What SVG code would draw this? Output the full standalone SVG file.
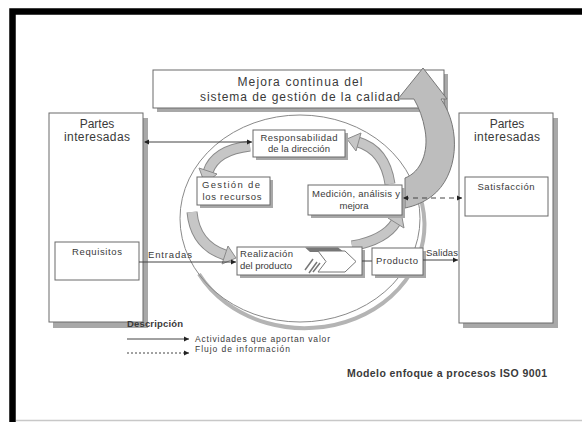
<svg xmlns="http://www.w3.org/2000/svg" width="582" height="422" viewBox="0 0 582 422">
<style>
text{font-family:"Liberation Sans",Arial,sans-serif;fill:#3a3a3a}
.box{fill:#fff;stroke:#6a6a6a;stroke-width:1}
.sh{fill:#a8a8a8}
.big{font-size:12px}
.nd{font-size:9.5px}
.lg{font-size:8.5px}
.con{stroke:#444;stroke-width:1;fill:none}
.cyc{fill:#c6c6c6;stroke:#8a8a8a;stroke-width:1}
</style>
<defs>
<marker id="ah" markerWidth="6" markerHeight="6" refX="5" refY="3" orient="auto" markerUnits="userSpaceOnUse">
<path d="M0,0.5 L5,3 L0,5.5 Z" fill="#222"/>
</marker>
<marker id="ahs" markerWidth="6" markerHeight="6" refX="1" refY="3" orient="auto" markerUnits="userSpaceOnUse">
<path d="M5,0.5 L0,3 L5,5.5 Z" fill="#222"/>
</marker>
</defs>
<rect width="582" height="422" fill="#fff"/>
<!-- frame -->
<rect x="12.5" y="11.5" width="600" height="440" fill="none" stroke="#000" stroke-width="6.5"/>
<line x1="16" y1="420.5" x2="582" y2="420.5" stroke="#c8c8c8" stroke-width="1.5"/>

<!-- ellipse -->
<g id="ellipse">
<path d="M415.8 186 A120 103.5 0 0 1 199 274" fill="none" stroke="#b4b4b4" stroke-width="4"/>
<ellipse cx="300" cy="218.5" rx="120" ry="103.5" fill="none" stroke="#8a8a8a" stroke-width="1"/>
</g>

<!-- top box -->
<g id="n-mejora">
<rect class="sh" x="157" y="74" width="291" height="38"/>
<rect class="box" x="153" y="70" width="291" height="38"/>
<text class="big" x="300" y="86" text-anchor="middle" textLength="125" lengthAdjust="spacing">Mejora continua del</text>
<text class="big" x="300" y="101" text-anchor="middle" textLength="200" lengthAdjust="spacing">sistema de gestión de la calidad</text>
</g>

<!-- big curved arrow -->
<g id="big-arrow">
<path d="M423 68 L447 99 L441 99 C462 130 458 176 432 196 C424 202 415 206 405 208 L405 178 C421 172 429 152 425 130 C423 118 419 108 414 99 L398 99 Z" fill="#bdbdbd" stroke="#777" stroke-width="1"/>
</g>

<!-- left stakeholders -->
<g id="n-partes-izq">
<rect class="sh" x="53" y="118" width="95" height="210"/>
<rect class="box" x="49" y="113" width="94" height="209"/>
<text class="big" x="97" y="128" text-anchor="middle">Partes</text>
<text class="big" x="97" y="141" text-anchor="middle" textLength="66" lengthAdjust="spacing">interesadas</text>
</g>
<g id="n-requisitos">
<rect class="box" x="55" y="242" width="84" height="38"/>
<text class="nd" x="97" y="255" text-anchor="middle" textLength="50" lengthAdjust="spacing">Requisitos</text>
</g>

<!-- right stakeholders -->
<g id="n-partes-der">
<rect class="sh" x="463" y="118" width="95" height="210"/>
<rect class="box" x="459" y="113" width="94" height="210"/>
<text class="big" x="507" y="128" text-anchor="middle">Partes</text>
<text class="big" x="507" y="141" text-anchor="middle" textLength="66" lengthAdjust="spacing">interesadas</text>
</g>
<g id="n-satisfaccion">
<rect class="box" x="465" y="177" width="83" height="39"/>
<text class="nd" x="506" y="190" text-anchor="middle" textLength="57" lengthAdjust="spacing">Satisfacción</text>
</g>

<!-- cycle arrows -->
<g id="cycle-arrows">
<path d="M250 146 Q215 150 208 172" fill="none" stroke="#8a8a8a" stroke-width="11"/>
<path d="M250 146 Q215 150 208 172" fill="none" stroke="#c6c6c6" stroke-width="9"/>
<polygon class="cyc" points="205,184 217,174 199,168"/>
<path d="M192 212 Q195 245 225 255" fill="none" stroke="#8a8a8a" stroke-width="11"/>
<path d="M192 212 Q195 245 225 255" fill="none" stroke="#c6c6c6" stroke-width="9"/>
<polygon class="cyc" points="236,258 222,264 228,246"/>
<path d="M352 246 Q385 240 396 222" fill="none" stroke="#8a8a8a" stroke-width="11"/>
<path d="M352 246 Q385 240 396 222" fill="none" stroke="#c6c6c6" stroke-width="9"/>
<polygon class="cyc" points="401,212 404,228 388,218"/>
<path d="M390 184 Q385 150 358 142" fill="none" stroke="#8a8a8a" stroke-width="11"/>
<path d="M390 184 Q385 150 358 142" fill="none" stroke="#c6c6c6" stroke-width="9"/>
<polygon class="cyc" points="347,139 361,133 356,151"/>
</g>

<!-- process nodes -->
<g id="n-responsabilidad">
<rect class="sh" x="256" y="133" width="92" height="27"/>
<rect class="box" x="253" y="130" width="92" height="27"/>
<text class="nd" x="299" y="141" text-anchor="middle" textLength="77" lengthAdjust="spacing">Responsabilidad</text>
<text class="nd" x="299" y="152" text-anchor="middle" textLength="62" lengthAdjust="spacing">de la dirección</text>
</g>
<g id="n-gestion">
<rect class="sh" x="200" y="180" width="73" height="28"/>
<rect class="box" x="197" y="177" width="73" height="28"/>
<text class="nd" x="231" y="188" text-anchor="middle" textLength="58" lengthAdjust="spacing">Gestión de</text>
<text class="nd" x="232" y="200" text-anchor="middle" textLength="59" lengthAdjust="spacing">los recursos</text>
</g>
<g id="n-medicion">
<rect class="sh" x="311" y="188" width="94" height="30"/>
<rect class="box" x="308" y="185" width="94" height="30"/>
<text class="nd" x="356" y="197" text-anchor="middle" textLength="88" lengthAdjust="spacing">Medición, análisis y</text>
<text class="nd" x="354" y="209" text-anchor="middle">mejora</text>
</g>
<g id="n-realizacion">
<rect class="sh" x="240" y="250" width="125" height="28"/>
<rect class="box" x="237" y="247" width="125" height="28"/>
<polygon points="305,247.5 338,247.5 344,252 310,252" fill="#777"/>
<polygon points="318,251 345,251 356,261.5 345,272 318,272 326,261.5" fill="#fff" stroke="#777" stroke-width="1"/>
<path d="M305 270 L313 259 M309 273 L317 262 M313 272 L320 263" stroke="#777" stroke-width="1.5" fill="none"/>
<text class="nd" x="240" y="257" textLength="53" lengthAdjust="spacing">Realización</text>
<text class="nd" x="240" y="269" textLength="52" lengthAdjust="spacing">del producto</text>
</g>
<g id="n-producto">
<rect class="sh" x="375" y="251" width="51" height="27"/>
<rect class="box" x="372" y="248" width="51" height="27"/>
<text class="nd" x="397" y="264" text-anchor="middle" textLength="42" lengthAdjust="spacing">Producto</text>
</g>

<!-- connectors -->
<g id="connectors">
<line class="con" x1="145" y1="142" x2="252" y2="142" marker-start="url(#ahs)" marker-end="url(#ah)"/>
<line class="con" x1="139" y1="262" x2="236" y2="262" marker-end="url(#ah)"/>
<line class="con" x1="362" y1="261" x2="372" y2="261"/>
<line class="con" x1="423" y1="260" x2="458" y2="260" marker-end="url(#ah)"/>
<line class="con" x1="404" y1="198" x2="462" y2="198" stroke-dasharray="5,4" marker-start="url(#ahs)" marker-end="url(#ah)"/>
<text class="nd" x="148" y="258" textLength="44" lengthAdjust="spacing">Entradas</text>
<text class="nd" x="426" y="256" textLength="32" lengthAdjust="spacing">Salidas</text>
</g>

<!-- legend -->
<g id="legend">
<text x="127" y="327" font-size="9.5" font-weight="bold" textLength="56" lengthAdjust="spacing">Descripción</text>
<line class="con" x1="127" y1="339" x2="189" y2="339" stroke="#777" marker-end="url(#ah)"/>
<line class="con" x1="127" y1="353" x2="189" y2="353" stroke="#777" stroke-dasharray="2,2" marker-end="url(#ah)"/>
<text class="lg" x="195" y="342" textLength="135" lengthAdjust="spacing">Actividades que aportan valor</text>
<text class="lg" x="195" y="352" textLength="95" lengthAdjust="spacing">Flujo de información</text>
<text x="347" y="377" font-size="10.5" font-weight="bold" textLength="200" lengthAdjust="spacing">Modelo enfoque a procesos ISO 9001</text>
</g>
</svg>
